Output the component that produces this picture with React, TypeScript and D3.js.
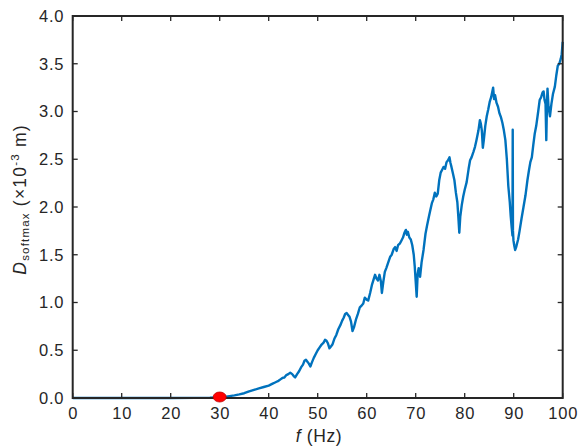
import React, { useRef, useEffect } from "react";
import * as d3 from "d3";

// frequency (Hz)
const freq = [
  0, 5, 10, 15, 20, 25, 28, 29, 30, 31, 32, 33, 34, 35, 36, 37, 38, 39,
  40, 40.4, 40.8, 41.2, 41.6, 42, 42.4, 42.8, 43.2, 43.6, 44, 44.4, 44.8, 45.1, 45.4, 45.8,
  46.2, 46.6, 47, 47.3, 47.6, 47.9, 48.2, 48.5, 48.8, 49.2, 49.6, 50, 50.4, 50.8, 51.2, 51.5,
  51.8, 52.1, 52.4, 52.7, 53, 53.4, 53.8, 54.2, 54.6, 55, 55.3, 55.6, 55.9, 56.2, 56.5, 56.8,
  57.1, 57.4, 57.8, 58.2, 58.6, 59, 59.3, 59.6, 60, 60.3, 60.7, 61.1, 61.4, 61.7, 62, 62.3,
  62.6, 62.9, 63.1, 63.4, 63.7, 64, 64.4, 64.8, 65.1, 65.5, 65.8, 66.1, 66.4, 66.8, 67.1, 67.4,
  67.7, 68, 68.2, 68.4, 68.7, 69, 69.3, 69.6, 69.8, 70, 70.2, 70.4, 70.6, 70.9, 71.2, 71.6,
  72, 72.3, 72.7, 73, 73.3, 73.6, 73.9, 74.2, 74.5, 74.8, 75.1, 75.4, 75.7, 76, 76.3, 76.6,
  76.9, 77.1, 77.3, 77.6, 77.9, 78.2, 78.5, 78.7, 78.9, 79.1, 79.4, 79.7, 80, 80.4, 80.8, 81.1,
  81.4, 81.8, 82.1, 82.4, 82.8, 83.1, 83.3, 83.5, 83.7, 83.9, 84.2, 84.5, 84.8, 85.1, 85.4, 85.6,
  85.8, 86, 86.2, 86.5, 86.8, 87.1, 87.4, 87.7, 88, 88.3, 88.6, 88.9, 89.2, 89.4, 89.6, 89.75,
  89.8, 89.85, 89.95, 90.1, 90.3, 90.5, 90.7, 90.9, 91.2, 91.6, 92, 92.4, 92.8, 93.1, 93.4, 93.7,
  94, 94.3, 94.6, 95, 95.3, 95.6, 95.9, 96.1, 96.3, 96.5, 96.65, 96.8, 96.9, 97.1, 97.4, 97.7,
  98, 98.4, 98.7, 99, 99.3, 99.6, 99.8, 100,
];

// D_softmax (x10^-3 m)
const disp = [
  0, 0, 0, 0, 0, 0.001, 0.003, 0.005, 0.008, 0.012, 0.02, 0.028, 0.038, 0.05, 0.07, 0.085, 0.1, 0.115,
  0.13, 0.14, 0.15, 0.16, 0.17, 0.18, 0.195, 0.21, 0.215, 0.24, 0.25, 0.265, 0.25, 0.23, 0.215, 0.25,
  0.28, 0.32, 0.35, 0.39, 0.4, 0.38, 0.36, 0.33, 0.37, 0.42, 0.46, 0.5, 0.53, 0.56, 0.58, 0.61,
  0.6, 0.57, 0.52, 0.54, 0.56, 0.62, 0.66, 0.72, 0.76, 0.81, 0.84, 0.88, 0.89, 0.87, 0.85, 0.8,
  0.7, 0.74, 0.82, 0.88, 0.95, 0.97, 0.99, 1.05, 1.03, 1.02, 1.1, 1.19, 1.24, 1.29, 1.25, 1.23,
  1.29, 1.22, 1.1, 1.22, 1.32, 1.36, 1.42, 1.48, 1.5, 1.56, 1.58, 1.54, 1.6, 1.62, 1.65, 1.68,
  1.73, 1.76, 1.71, 1.74, 1.68, 1.66, 1.6, 1.5, 1.38, 1.22, 1.06, 1.3, 1.36, 1.27, 1.42, 1.55,
  1.72, 1.8, 1.9, 1.97, 2.04, 2.08, 2.15, 2.11, 2.14, 2.28, 2.36, 2.39, 2.42, 2.4, 2.47, 2.49,
  2.52, 2.46, 2.42, 2.35, 2.28, 2.15, 2.05, 1.9, 1.73, 1.9, 2.02, 2.11, 2.18, 2.26, 2.4, 2.49,
  2.52, 2.58, 2.63, 2.7, 2.8, 2.91, 2.87, 2.8, 2.62, 2.7, 2.85, 2.95, 3.02, 3.1, 3.15, 3.2,
  3.25, 3.13, 3.17, 3.09, 3.05, 2.98, 2.94, 2.88, 2.8, 2.7, 2.5, 2.22, 2.05, 1.9, 1.78, 1.7,
  2.81, 1.75, 1.65, 1.6, 1.55, 1.58, 1.62, 1.66, 1.75, 1.88, 2.0, 2.12, 2.28, 2.38, 2.47, 2.52,
  2.65, 2.77, 2.85, 3.0, 3.12, 3.15, 3.2, 3.21, 3.12, 3.08, 2.7, 3.1, 3.24, 3.05, 2.95, 3.08,
  3.18, 3.26, 3.38, 3.48, 3.5, 3.55, 3.6, 3.73,
];

const xTicks = [0, 10, 20, 30, 40, 50, 60, 70, 80, 90, 100];
const yTicks = [0, 0.5, 1, 1.5, 2, 2.5, 3, 3.5, 4];
const marker = { f: 30, d: 0 };

const W = 579;
const H = 446;

const App = () => {
  const svgRef = useRef<SVGSVGElement>(null);

  useEffect(() => {
    document.body.style.margin = "0";
    const svg = d3.select(svgRef.current);
    svg.selectAll("*").remove();

    const left = 72.7, right = 562.7, top = 16, bottom = 398;
    const x = d3.scaleLinear().domain([0, 100]).range([left, right]);
    const y = d3.scaleLinear().domain([0, 4]).range([bottom, top]);
    const axisColor = "#262626";
    const font = "Liberation Sans, Arial, sans-serif";
    const tickLen = 5;

    const data = freq.map((f, i) => ({ f, d: disp[i] }));

    // curve
    svg.append("path")
      .datum(data)
      .attr("fill", "none")
      .attr("stroke", "#0072BD")
      .attr("stroke-width", 2.4)
      .attr("stroke-linejoin", "round")
      .attr("d", d3.line<any>().x((p) => x(p.f)).y((p) => y(p.d)));

    // ticks on all four sides, pointing inward
    const g = svg.append("g").attr("stroke", axisColor).attr("stroke-width", 1.3);
    xTicks.forEach((t) => {
      g.append("line").attr("x1", x(t)).attr("x2", x(t)).attr("y1", bottom).attr("y2", bottom - tickLen);
      g.append("line").attr("x1", x(t)).attr("x2", x(t)).attr("y1", top).attr("y2", top + tickLen);
    });
    yTicks.forEach((t) => {
      g.append("line").attr("x1", left).attr("x2", left + tickLen).attr("y1", y(t)).attr("y2", y(t));
      g.append("line").attr("x1", right).attr("x2", right - tickLen).attr("y1", y(t)).attr("y2", y(t));
    });

    // box
    svg.append("rect")
      .attr("x", left).attr("y", top)
      .attr("width", right - left).attr("height", bottom - top)
      .attr("fill", "none").attr("stroke", axisColor).attr("stroke-width", 2);

    // marker
    svg.append("ellipse")
      .attr("cx", x(marker.f)).attr("cy", y(marker.d) - 1)
      .attr("rx", 6.5).attr("ry", 5)
      .attr("fill", "#ff0000").attr("stroke", "#c00000").attr("stroke-width", 0.8);

    // tick labels
    svg.append("g").selectAll("text").data(xTicks).enter().append("text")
      .attr("x", (d) => x(d) + 0.5).attr("y", 418.5)
      .attr("text-anchor", "middle")
      .attr("font-family", font).attr("font-size", 16.5).attr("letter-spacing", 0.8).attr("fill", axisColor)
      .text((d) => d3.format("d")(d));

    svg.append("g").selectAll("text").data(yTicks).enter().append("text")
      .attr("x", 64.3).attr("y", (d) => y(d))
      .attr("dy", "0.36em")
      .attr("text-anchor", "end")
      .attr("font-family", font).attr("font-size", 16.5).attr("letter-spacing", 0.8).attr("fill", axisColor)
      .text((d) => d3.format(".1f")(d));

    // x label
    const xl = svg.append("text")
      .attr("x", 319).attr("y", 441.5)
      .attr("text-anchor", "middle")
      .attr("font-family", font).attr("font-size", 17.5).attr("letter-spacing", 0.6).attr("fill", axisColor);
    xl.append("tspan").attr("font-style", "italic").text("f");
    xl.append("tspan").text(" (Hz)");

    // y label
    const yl = svg.append("text")
      .attr("transform", `translate(25.5, 199.5) rotate(-90)`)
      .attr("text-anchor", "middle")
      .attr("font-family", font).attr("font-size", 17.5).attr("letter-spacing", 1.2).attr("fill", axisColor);
    yl.append("tspan").attr("font-style", "italic").text("D");
    yl.append("tspan").attr("font-size", 11.5).attr("dy", 3.5).text("softmax");
    yl.append("tspan").attr("dy", -3.5).text(" (×10");
    yl.append("tspan").attr("font-size", 11.5).attr("dy", -7).text("-3");
    yl.append("tspan").attr("dy", 7).text(" m)");
  }, []);

  return <svg ref={svgRef} width={W} height={H} style={{ display: "block", background: "#fff" }} />;
};

export default App;
